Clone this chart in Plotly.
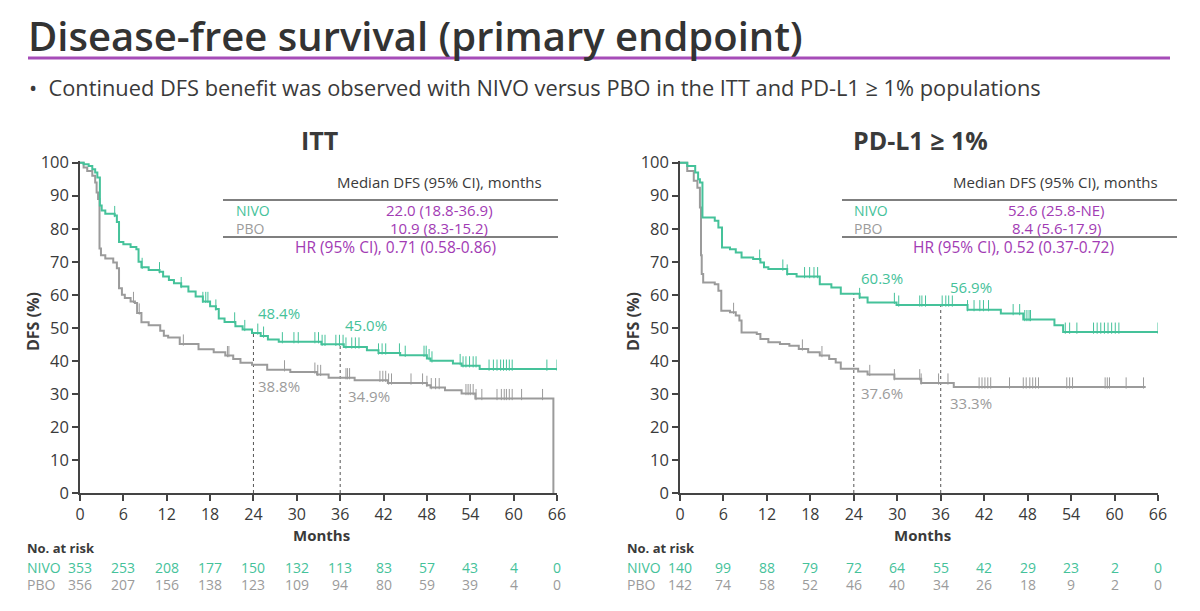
import numpy as np
import plotly.graph_objects as go

W, H = 1200, 611
GREEN = "#45c29a"
GRAY = "#9b9b9b"
PURPLE = "#a23bb4"
DARK = "#3a3a3a"
FONT = "Open Sans, Liberation Sans, DejaVu Sans"

# ---------------- data ----------------
months_ticks = [0, 6, 12, 18, 24, 30, 36, 42, 48, 54, 60, 66]

itt_nivo_t = [0, 0.5, 1.2, 1.7, 2.1, 2.4, 2.75, 3.0, 3.5, 4.8, 5.1, 5.4, 6.0, 7.0, 7.8, 8.1, 8.5, 9.5, 11.0, 11.5,
              12.3, 13.0, 14.0, 15.0, 16.0, 17.0, 18.0, 18.8, 19.2, 20.0, 21.5, 22.5, 23.8, 25.0, 26.0, 27.5, 33.4,
              36.5, 39.7, 41.3, 44.3, 48.0, 48.5, 51.6, 52.8, 55.3, 66.0]
itt_nivo_s = [100, 99.5, 99, 98, 97, 95.5, 87, 85.5, 84.5, 84, 82, 76, 75.3, 74.5, 73.8, 70, 68.3, 67.5, 67, 65.5,
              64.5, 63.5, 62.5, 61, 59.5, 58, 56.5, 55.7, 52.8, 51.8, 50.5, 49.5, 48.4, 47.5, 46.5, 45.8, 45.0,
              44.2, 43.2, 42.4, 41.7, 40.7, 40.0, 39.2, 38.5, 37.5, 37.5]
itt_nivo_cens = [4.8, 8.6, 11.0, 14.0, 17.0, 17.4, 17.7, 18.8, 21.4, 22.8, 24.6, 25.4, 28.0, 29.6, 30.2, 32.5,
                 33.0, 33.5, 33.9, 35.4, 35.9, 36.4, 36.8, 37.6, 38.1, 38.6, 41.3, 41.8, 42.3, 44.2, 45.0, 47.6,
                 47.9, 48.3, 48.7, 52.6, 53.0, 53.4, 53.9, 54.4, 54.8, 56.6, 57.2, 57.7, 58.2, 58.6, 59.0, 59.4,
                 59.8, 64.6, 66.0]

itt_pbo_t = [0, 0.5, 1.0, 1.7, 2.1, 2.3, 2.5, 2.7, 2.9, 3.5, 4.6, 5.1, 5.4, 5.8, 6.2, 7.0, 7.6, 7.9, 8.5, 9.5,
             11.1, 11.6, 12.2, 13.8, 16.4, 18.5, 20.1, 21.2, 22.2, 23.8, 25.9, 29.1, 32.8, 34.4, 38.0, 42.6, 48.0,
             48.5, 50.5, 52.8, 54.7, 65.5, 65.5]
itt_pbo_s = [100, 98.5, 97.5, 96, 94, 91, 89, 74, 72, 71, 69.8, 68, 62, 60, 59, 58, 57.5, 54.5, 51.7, 50.8,
             49.1, 47.6, 47.1, 45.1, 43.5, 42.6, 41.6, 40.6, 39.4, 38.8, 37.3, 36.6, 35.9, 34.9, 34.1, 33.3, 32.6,
             31.9, 31.1, 30.1, 28.6, 28.6, 0]
itt_pbo_cens = [7.4, 8.2, 14.3, 20.4, 20.6, 28.3, 32.5, 32.9, 33.3, 36.8, 37.0, 37.3, 41.5, 41.9, 42.3, 42.7,
                43.1, 45.8, 47.4, 48.0, 48.6, 49.2, 49.7, 53.4, 53.7, 54.0, 54.4, 54.8, 55.6, 57.7, 58.3, 58.7,
                59.0, 59.4, 59.8, 61.1, 64.0]

pd_nivo_t = [0, 1.0, 2.1, 2.5, 2.75, 3.1, 4.8, 5.3, 5.8, 6.9, 7.7, 8.5, 10.1, 11.1, 11.6, 12.2, 14.8, 16.1, 19.3,
             20.9, 22.2, 24.8, 25.9, 29.9, 39.7, 44.3, 47.4, 51.7, 52.9, 66.0]
pd_nivo_s = [100, 99, 97, 95, 94, 83.4, 82.4, 80.4, 74.3, 73.8, 72.8, 71.3, 70.8, 69.8, 68.3, 67.8, 66.3, 65.5, 63.2,
             62.2, 60.3, 59.2, 57.7, 56.9, 55.5, 54.3, 52.5, 50.8, 48.7, 48.7]
pd_nivo_cens = [11.0, 14.2, 14.8, 17.2, 17.9, 18.5, 19.0, 24.8, 29.6, 30.2, 33.1, 33.4, 33.9, 36.2, 36.7, 37.1,
                37.6, 39.7, 40.6, 41.4, 41.9, 42.6, 46.0, 46.9, 47.6, 47.9, 48.2, 48.4, 53.2, 53.8, 54.8, 57.1,
                57.6, 58.1, 58.6, 59.1, 59.6, 60.1, 60.6, 66.0]

pd_pbo_t = [0, 1.0, 1.9, 2.4, 2.75, 2.9, 3.0, 3.2, 4.8, 5.3, 5.7, 6.9, 7.7, 8.2, 8.5, 10.6, 11.1, 12.2, 13.8, 15.1,
            16.4, 17.7, 19.3, 20.6, 21.5, 22.2, 24.6, 25.9, 29.6, 33.3, 37.8, 64.3]
pd_pbo_s = [100, 97.5, 94.5, 92.4, 86.4, 72, 66.3, 63.7, 63.2, 61.2, 55.2, 54.7, 53.7, 52.2, 48.6, 48.1, 46.6, 45.6,
            45.1, 44.6, 43.6, 42.6, 41.6, 40.6, 39.5, 37.6, 36.8, 35.9, 34.6, 33.3, 32.1, 32.1]
pd_pbo_cens = [7.4, 16.9, 19.6, 26.2, 29.6, 33.1, 33.3, 35.7, 37.0, 41.3, 41.7, 42.1, 42.5, 42.9, 45.5, 47.4,
               47.8, 48.3, 48.7, 49.1, 49.5, 53.4, 53.8, 54.2, 58.7, 59.0, 59.3, 61.6, 64.0]

itt_risk_nivo = [353, 253, 208, 177, 150, 132, 113, 83, 57, 43, 4, 0]
itt_risk_pbo = [356, 207, 156, 138, 123, 109, 94, 80, 59, 39, 4, 0]
pd_risk_nivo = [140, 99, 88, 79, 72, 64, 55, 42, 29, 23, 2, 0]
pd_risk_pbo = [142, 74, 58, 52, 46, 40, 34, 26, 18, 9, 2, 0]

landmark_months = [24, 36]
itt_landmark_nivo = [48.4, 45.0]
itt_landmark_pbo = [38.8, 34.9]
pd_landmark_nivo = [60.3, 56.9]
pd_landmark_pbo = [37.6, 33.3]

itt_median = ["22.0 (18.8-36.9)", "10.9 (8.3-15.2)"]
itt_hr = "HR (95% CI), 0.71 (0.58-0.86)"
pd_median = ["52.6 (25.8-NE)", "8.4 (5.6-17.9)"]
pd_hr = "HR (95% CI), 0.52 (0.37-0.72)"


def px(x):
    return x / W


def py(y):
    return 1 - y / H


def surv_at(ts, ss, times):
    ts = np.asarray(ts)
    ss = np.asarray(ss)
    idx = np.searchsorted(ts, np.asarray(times), side="right") - 1
    idx = np.clip(idx, 0, len(ss) - 1)
    return ss[idx]


annotations = []
shapes = []


def ann(x, y, text, size, color, xanchor="center", xref="paper", weight=None, angle=0):
    f = dict(family=FONT, size=size, color=color)
    if weight:
        f["weight"] = weight
    annotations.append(dict(x=x if xref != "paper" else px(x), y=py(y), xref=xref, yref="paper", text=text,
                            showarrow=False, xanchor=xanchor, yanchor="middle", textangle=angle, font=f))


fig = go.Figure()

panels = [
    dict(xa="x", ya="y", x0=80, x1=557, nivo=(itt_nivo_t, itt_nivo_s, itt_nivo_cens),
         pbo=(itt_pbo_t, itt_pbo_s, itt_pbo_cens), risk=(itt_risk_nivo, itt_risk_pbo),
         lm=(itt_landmark_nivo, itt_landmark_pbo), title="ITT", median=itt_median, hr=itt_hr,
         tab=dict(l=223, r=558, head_r=544, lab_x=234, val_c=439, hr_c=395),
         lab_off=dict(nivo=[(279, 313), (366, 325)], pbo=[(279, 386), (369, 396)])),
    dict(xa="x2", ya="y2", x0=680, x1=1158, nivo=(pd_nivo_t, pd_nivo_s, pd_nivo_cens),
         pbo=(pd_pbo_t, pd_pbo_s, pd_pbo_cens), risk=(pd_risk_nivo, pd_risk_pbo),
         lm=(pd_landmark_nivo, pd_landmark_pbo), title="PD-L1 ≥ 1%", median=pd_median, hr=pd_hr,
         tab=dict(l=842, r=1177, head_r=1160, lab_x=852, val_c=1056, hr_c=1013),
         lab_off=dict(nivo=[(882, 278), (971, 287)], pbo=[(882, 393), (971, 403)])),
]

for p in panels:
    # dotted landmark lines
    for m, v in zip(landmark_months, p["lm"][0]):
        fig.add_trace(go.Scatter(x=[m, m], y=[0, v], mode="lines", xaxis=p["xa"], yaxis=p["ya"],
                                 line=dict(color="#555555", width=1, dash="dot"), showlegend=False,
                                 hoverinfo="skip"))
    for (t, s, c), col in [(p["pbo"], GRAY), (p["nivo"], GREEN)]:
        fig.add_trace(go.Scatter(x=t, y=s, mode="lines", line=dict(color=col, width=2, shape="hv"),
                                 xaxis=p["xa"], yaxis=p["ya"], showlegend=False))
        cy = surv_at(t, s, c) + 1.2
        fig.add_trace(go.Scatter(x=c, y=cy, mode="markers", xaxis=p["xa"], yaxis=p["ya"], showlegend=False,
                                 marker=dict(symbol="line-ns", size=8, line=dict(color=col, width=1))))
    # landmark labels
    for (lx, ly), v in zip(p["lab_off"]["nivo"], p["lm"][0]):
        ann(lx, ly, f"{v:.1f}%", 15, GREEN)
    for (lx, ly), v in zip(p["lab_off"]["pbo"], p["lm"][1]):
        ann(lx, ly, f"{v:.1f}%", 15, GRAY)
    # panel title
    ann((p["x0"] + p["x1"]) / 2 + 1, 140, f"<b>{p['title']}</b>", 25, DARK)
    # axis titles
    ann(p["x0"] - 47, 322, "<b>DFS (%)</b>", 16, DARK, angle=-90)
    ann((p["x0"] + p["x1"]) / 2 + 3, 535, "<b>Months</b>", 15, DARK)
    # at risk table
    ann(p["x0"] - 55, 548, "<b>No. at risk</b>", 13, DARK, xanchor="left")
    for row_y, lab, vals, col in [(567, "NIVO", p["risk"][0], GREEN), (584, "PBO", p["risk"][1], GRAY)]:
        ann(p["x0"] - 55, row_y, lab, 14, col, xanchor="left")
        for m, v in zip(months_ticks, vals):
            ann(m, row_y, str(v), 14, col, xref=p["xa"])
    # median table
    tb = p["tab"]
    ann(tb["head_r"], 182, "Median DFS (95% CI), months", 15, DARK, xanchor="right")
    for yy in (200, 237):
        shapes.append(dict(type="line", xref="paper", yref="paper", x0=px(tb["l"]), x1=px(tb["r"]), y0=py(yy),
                           y1=py(yy), line=dict(color="#555555", width=1.5)))
    for row_y, lab, col, val in [(210, "NIVO", GREEN, p["median"][0]), (228, "PBO", GRAY, p["median"][1])]:
        ann(tb["lab_x"], row_y, lab, 14, col, xanchor="left")
        ann(tb["val_c"], row_y, val, 15, PURPLE)
    ann(tb["hr_c"], 247, p["hr"], 15.5, PURPLE)

# slide title & bullet
ann(26, 35, "Disease-free survival (primary endpoint)", 40, "#333333", xanchor="left", weight=600)
ann(27, 88, "•  Continued DFS benefit was observed with NIVO versus PBO in the ITT and PD-L1 ≥ 1% populations",
    21.8, DARK, xanchor="left")
shapes.append(dict(type="line", xref="paper", yref="paper", x0=px(28), x1=px(1170), y0=py(58), y1=py(58),
                   line=dict(color="#a64cb8", width=3)))

ax_common = dict(range=[0, 66], tickvals=months_ticks, showgrid=False, zeroline=False, showline=True,
                 linecolor="#444444", linewidth=1.5, ticks="outside", ticklen=6, tickwidth=1.5, automargin=False,
                 tickcolor="#444444", tickfont=dict(family=FONT, size=16, color=DARK), fixedrange=True)
ay_common = dict(range=[0, 100.5], tickvals=list(range(0, 101, 10)), showgrid=False, zeroline=False,
                 showline=True, linecolor="#444444", linewidth=1.5, ticks="outside", ticklen=6, tickwidth=1.5,
                 automargin=False,
                 tickcolor="#444444", tickfont=dict(family=FONT, size=16.5, color=DARK), fixedrange=True)

fig.update_layout(
    width=W, height=H, margin=dict(l=0, r=0, t=0, b=0, pad=0, autoexpand=False),
    paper_bgcolor="white", plot_bgcolor="white",
    xaxis=dict(ax_common, domain=[px(80), px(557)], anchor="y"),
    yaxis=dict(ay_common, domain=[py(493), py(161)], anchor="x"),
    xaxis2=dict(ax_common, domain=[px(680), px(1158)], anchor="y2"),
    yaxis2=dict(ay_common, domain=[py(493), py(161)], anchor="x2"),
    annotations=annotations, shapes=shapes, showlegend=False,
)

fig.write_html("out.html", config={"displayModeBar": False},
               post_script="document.body.style.margin='0';document.body.style.overflow='hidden';")
